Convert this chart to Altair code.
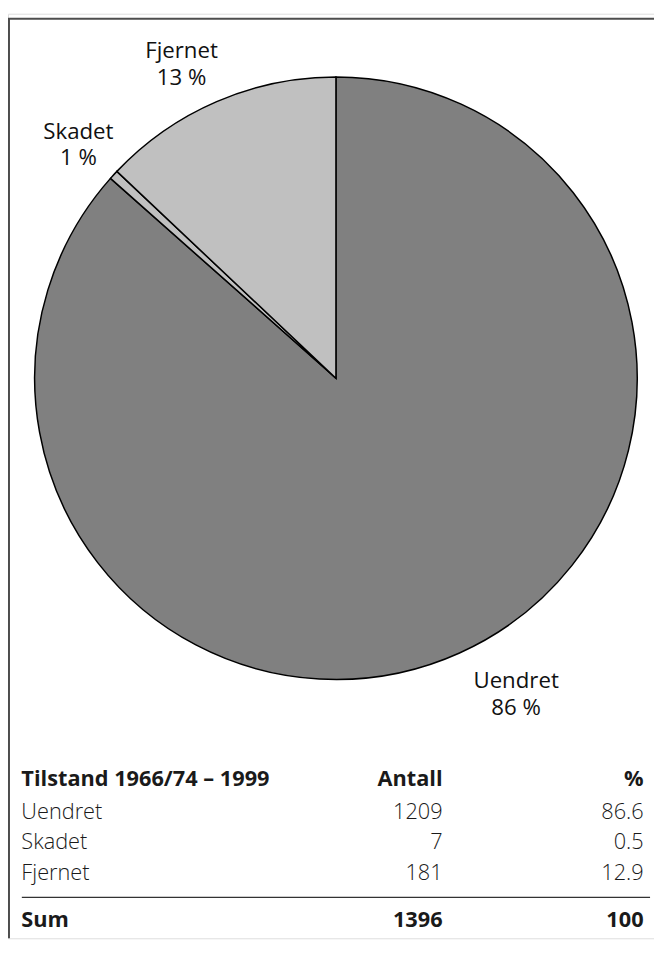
import math
import altair as alt
import pandas as pd

# ---- data ----
categories = ["Uendret", "Skadet", "Fjernet"]
counts = [1209, 7, 181]
percents = [86.6, 0.5, 12.9]
pie_labels = ["Uendret\n86 %", "Skadet\n1 %", "Fjernet\n13 %"]
slice_colors = ["#808080", "#c0c0c0", "#c0c0c0"]
header = ["Tilstand 1966/74 – 1999", "Antall", "%"]
sum_row = ["Sum", "1396", "100"]

FONT = "Open Sans"
W, H = 654, 936
CX, CY, R = 332, 369, 305
LAB_R = 352
TOTAL = sum(counts)
theta_scale = alt.Scale(domain=[0, TOTAL], range=[0, 2 * math.pi])

df = pd.DataFrame({
    "cat": categories,
    "count": counts,
    "order": list(range(len(categories))),
    "label": pie_labels,
    "count_txt": [str(c) for c in counts],
    "pct_txt": [f"{p:.1f}" for p in percents],
})
base = alt.Chart(df)

pie = base.mark_arc(outerRadius=R, stroke="black", strokeWidth=1.5).encode(
    theta=alt.Theta("count:Q", stack=True, scale=theta_scale),
    order=alt.Order("order:Q"),
    color=alt.Color("cat:N", scale=alt.Scale(domain=categories, range=slice_colors), legend=None),
    x=alt.value(CX),
    y=alt.value(CY),
)

label_offsets = {"Uendret": (38, -14), "Skadet": (-1, -12), "Fjernet": (-17, -8)}
label_layers = []
for cat, (dx, dy) in label_offsets.items():
    label_layers.append(
        base.transform_window(
            cum="sum(count)", sort=[alt.SortField("order")]
        ).transform_calculate(
            mid="datum.cum - datum.count / 2"
        ).transform_filter(
            alt.datum.cat == cat
        ).mark_text(radius=LAB_R, align="center", baseline="middle", lineBreak="\n",
                    font=FONT, fontSize=22.5, lineHeight=27, color="#111111", dx=dx, dy=dy).encode(
            theta=alt.Theta("mid:Q", scale=theta_scale),
            text="label:N",
            x=alt.value(CX),
            y=alt.value(CY),
        )
    )

# ---- table ----
yrow = alt.Y("cat:N", scale=alt.Scale(domain=categories, range=[815, 877], padding=0), axis=None, sort=categories)
txt_kw = dict(font=FONT, fontSize=22, fontWeight=300, baseline="alphabetic", color="#1a1a1a")
col_name = base.mark_text(align="left", **txt_kw).encode(x=alt.value(13.5), y=yrow, text="cat:N")
col_count = base.mark_text(align="right", **txt_kw).encode(x=alt.value(440), y=yrow, text="count_txt:N")
col_pct = base.mark_text(align="right", **txt_kw).encode(x=alt.value(643.5), y=yrow, text="pct_txt:N")

hdr_df = pd.DataFrame({"h0": [header[0]], "h1": [header[1]], "h2": [header[2]],
                       "s0": [sum_row[0]], "s1": [sum_row[1]], "s2": [sum_row[2]]})
hb = alt.Chart(hdr_df)
bold_kw = dict(font=FONT, fontSize=22, fontWeight="bold", baseline="alphabetic", color="#1a1a1a")
hdr = [
    hb.mark_text(align="left", **bold_kw).encode(x=alt.value(13.5), y=alt.value(782), text="h0:N"),
    hb.mark_text(align="right", **bold_kw).encode(x=alt.value(440), y=alt.value(782), text="h1:N"),
    hb.mark_text(align="right", **bold_kw).encode(x=alt.value(643.5), y=alt.value(782), text="h2:N"),
    hb.mark_text(align="left", **bold_kw).encode(x=alt.value(13.5), y=alt.value(925), text="s0:N"),
    hb.mark_text(align="right", **bold_kw).encode(x=alt.value(440), y=alt.value(925), text="s1:N"),
    hb.mark_text(align="right", **bold_kw).encode(x=alt.value(643.5), y=alt.value(925), text="s2:N"),
]

sum_rule = hb.mark_rule(color="#333333", strokeWidth=1.3).encode(
    x=alt.value(14), x2=alt.value(650), y=alt.value(894.5))

frame_top = hb.mark_rule(color="#4d4d4d", strokeWidth=2).encode(
    x=alt.value(0), x2=alt.value(W), y=alt.value(5))
frame_left = hb.mark_rule(color="#4d4d4d", strokeWidth=2).encode(
    x=alt.value(1), y=alt.value(5), y2=alt.value(H))

chart = alt.layer(
    pie, *label_layers, col_name, col_count, col_pct, *hdr, sum_rule, frame_top, frame_left
).properties(
    width=W, height=H, padding=0, autosize=alt.AutoSizeParams(type="none"),
).configure_view(stroke="transparent", strokeWidth=0).configure(background="white")

chart.save("out.html", embed_options={"renderer": "svg", "actions": False})
